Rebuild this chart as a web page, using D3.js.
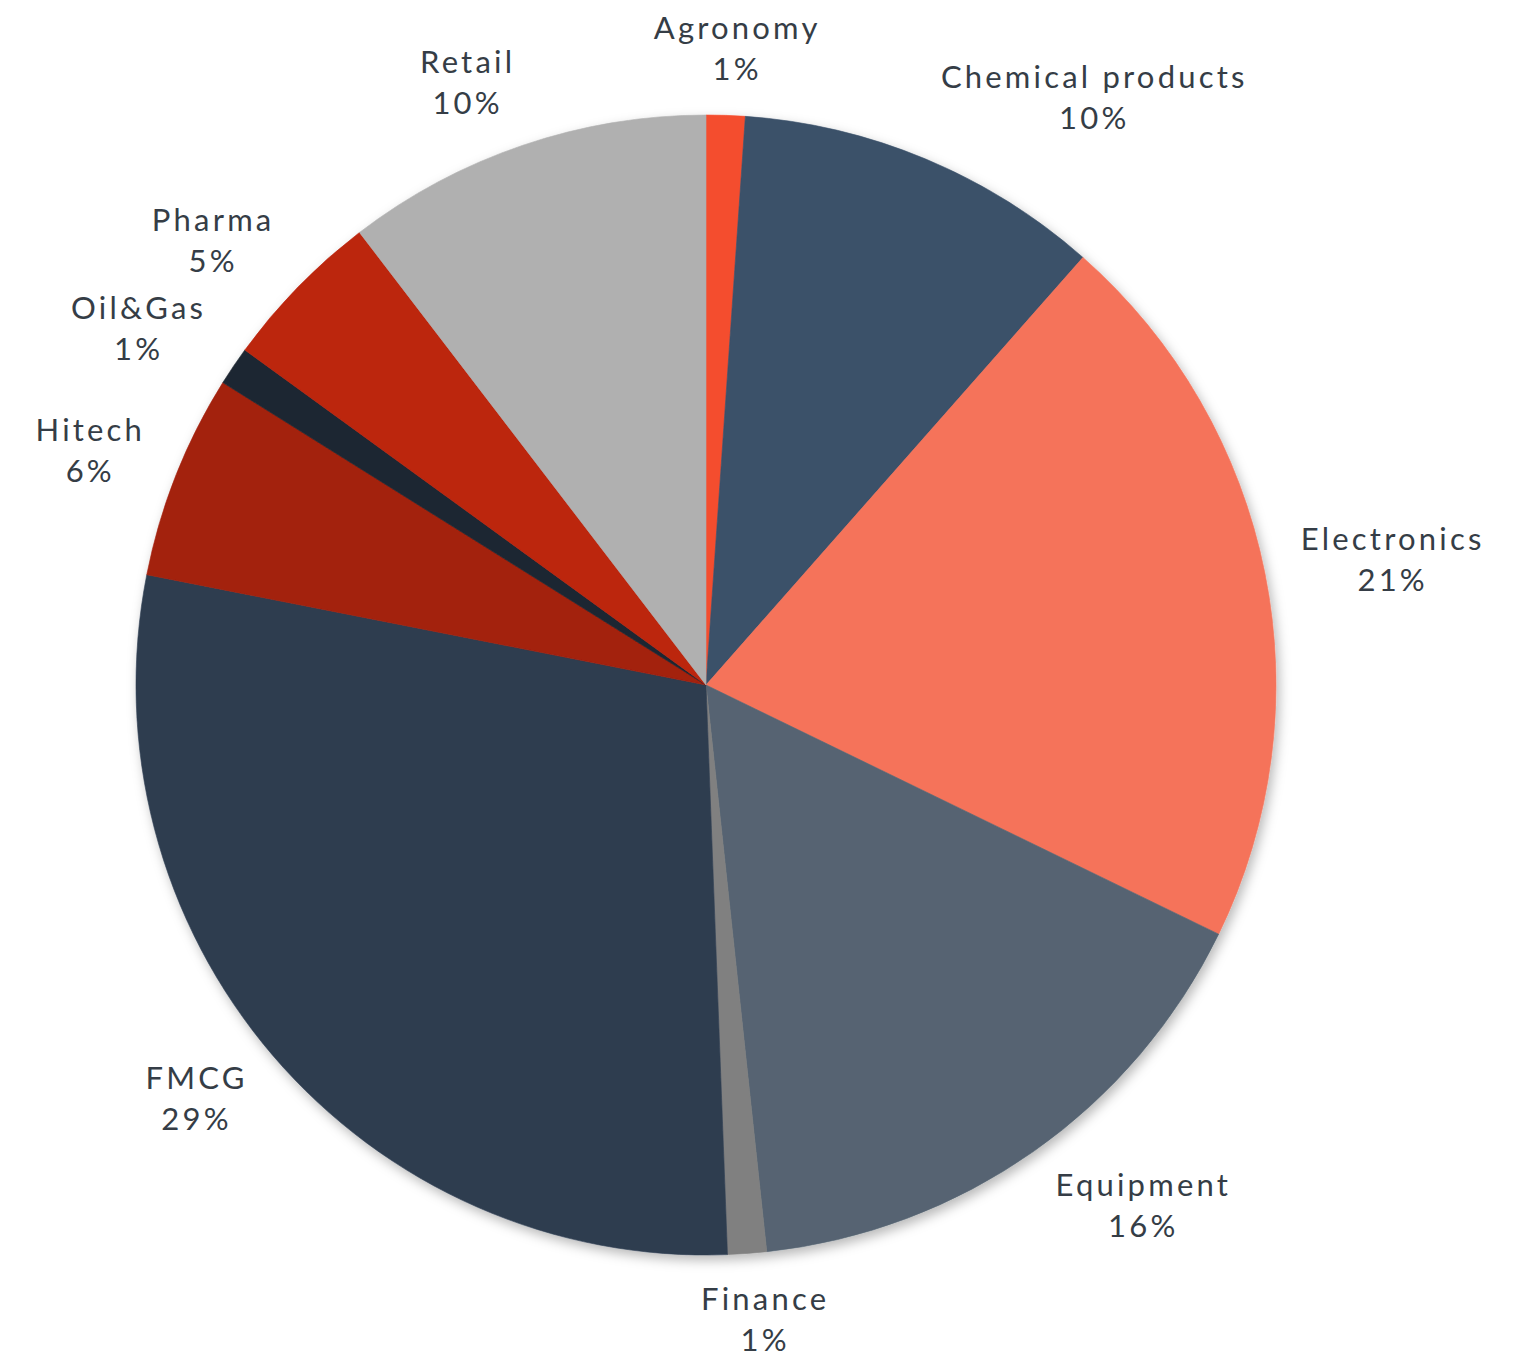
<!DOCTYPE html>
<html>
<head>
<meta charset="utf-8">
<script src="https://cdn.jsdelivr.net/npm/d3@7"></script>
<style>
  html, body { margin: 0; padding: 0; background: #fff; }
  svg { display: block; }
  .lbl { font-family: Lato, 'Noto Sans', sans-serif; font-size: 31px; fill: #353d46; letter-spacing: 3.2px; }
</style>
</head>
<body>
<div id="chart"></div>
<script>
// industry split, clockwise from 12 o'clock
const categories = ['Agronomy', 'Chemical products', 'Electronics', 'Equipment', 'Finance',
                    'FMCG', 'Hitech', 'Oil&Gas', 'Pharma', 'Retail'];
const shares = [1.1, 10.4, 20.7, 16.1, 1.1, 28.7, 5.8, 1.1, 4.6, 10.4];
const pctLabels = ['1%', '10%', '21%', '16%', '1%', '29%', '6%', '1%', '5%', '10%'];
const colors = ['#f44d2f', '#3b5169', '#f5735a', '#566472', '#808080',
                '#2e3d50', '#a3200b', '#1e2731', '#bc250d', '#b0b0b0'];

(function () {
  'use strict';
  const W = 1521, H = 1362;
  const cx = 706, cy = 685, R = 570;
  const labelR = 605;
  const capH = 22, lineH = 41;

  const svg = d3.select('#chart').append('svg').attr('width', W).attr('height', H);

  const defs = svg.append('defs');
  const f = defs.append('filter').attr('id', 'shadow')
    .attr('x', '-10%').attr('y', '-10%').attr('width', '120%').attr('height', '120%');
  f.append('feDropShadow').attr('dx', 3).attr('dy', 5).attr('stdDeviation', 6)
    .attr('flood-color', '#000').attr('flood-opacity', 0.28);

  const data = categories.map((c, i) => ({ name: c, value: shares[i], pct: pctLabels[i], color: colors[i] }));

  const pie = d3.pie().value(d => d.value).sort(null);
  const arc = d3.arc().innerRadius(0).outerRadius(R);
  const arcs = pie(data);

  const g = svg.append('g').attr('transform', `translate(${cx},${cy})`);
  const slices = g.append('g').attr('filter', 'url(#shadow)');
  slices.selectAll('path').data(arcs).enter().append('path')
    .attr('d', arc)
    .attr('fill', d => d.data.color)
    .attr('stroke', d => d.data.color)
    .attr('stroke-width', 0.6);

  // labels: anchor point at labelR on the mid-angle, box slid outward
  const boxH = capH + lineH;
  arcs.forEach(a => {
    const mid = (a.startAngle + a.endAngle) / 2;
    const s = Math.sin(mid), c = Math.cos(mid);
    const px = s * labelR, py = -c * labelR;
    const boxCy = py - c * boxH / 2;
    const top = boxCy - boxH / 2;
    const t = g.append('text').attr('class', 'lbl').attr('text-anchor', 'middle');
    const t1 = t.append('tspan').attr('y', top + capH).text(a.data.name);
    const t2 = t.append('tspan').attr('y', top + capH + lineH).text(a.data.pct);
    // horizontal: fraction of half-width pushed outward, saturating at the sides
    const w = t1.node().getComputedTextLength();
    const frac = Math.max(-1, Math.min(1, s * 3));
    const xc = px + frac * w / 2 + 1.6;   // +1.6 offsets trailing letter-spacing
    t1.attr('x', xc);
    t2.attr('x', xc);
  });
})();
</script>
</body>
</html>
